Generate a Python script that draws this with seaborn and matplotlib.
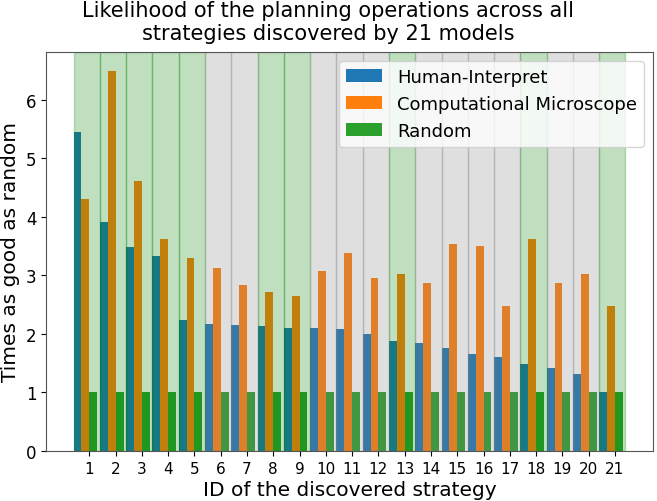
import numpy as np
import pandas as pd
import matplotlib
matplotlib.use('Agg')
import matplotlib.pyplot as plt
import seaborn as sns

# 数据：每个策略相对随机的倍数
strategy_ids = list(range(1, 22))
human_interpret = [5.46, 3.92, 3.48, 3.33, 2.24, 2.17, 2.15, 2.14, 2.10, 2.10, 2.08,
                   2.00, 1.87, 1.85, 1.75, 1.66, 1.61, 1.49, 1.42, 1.32, 1.00]
comp_microscope = [4.30, 6.50, 4.61, 3.63, 3.30, 3.13, 2.84, 2.71, 2.64, 3.07, 3.39,
                   2.95, 3.02, 2.87, 3.53, 3.51, 2.48, 3.63, 2.87, 3.02, 2.48]
random_base = [1.0] * 21
green_ids = [1, 2, 3, 4, 5, 8, 9, 13, 18, 21]
method_names = ['Human-Interpret', 'Computational Microscope', 'Random']
colors = ['#1f77b4', '#ff7f0e', '#2ca02c']

df = pd.DataFrame({
    'strategy': [str(s) for s in strategy_ids] * 3,
    'value': human_interpret + comp_microscope + random_base,
    'method': [m for m in method_names for _ in strategy_ids],
})

fig = plt.figure(figsize=(6.57, 5.02), dpi=100)
ax = fig.add_axes([0.07, 0.10, 0.924, 0.795])

sns.barplot(data=df, x='strategy', y='value', hue='method', palette=colors,
            width=0.9, saturation=1, errorbar=None, linewidth=0, ax=ax)

# 背景色块（画在柱子上方，半透明）
for i, sid in enumerate(strategy_ids):
    c = 'green' if sid in green_ids else 'grey'
    ax.axvspan(i - 0.45, i + 0.55, color=c, alpha=0.25, lw=1)

ax.set_xticks(np.arange(21) + 0.15)
ax.set_xticklabels([str(s) for s in strategy_ids], fontsize=11)
ax.set_yticks(range(0, 7))
ax.set_yticklabels([str(v) for v in range(0, 7)], fontsize=12)
ax.set_xlim(-1.5, 21.6)
ax.set_ylim(0, 6.825)
ax.set_xlabel('ID of the discovered strategy', fontsize=14.5, labelpad=3)
ax.set_ylabel('Times as good as random', fontsize=14.5)
for sp in ax.spines.values():
    sp.set_color('#555555')

handles, labels = ax.get_legend_handles_labels()
ax.legend(handles, labels, loc='upper right', fontsize=13)

fig.text(0.5, 0.998, 'Likelihood of the planning operations across all\nstrategies discovered by 21 models',
         ha='center', va='top', fontsize=15, linespacing=1.2)

fig.savefig('out.png', dpi=100)
